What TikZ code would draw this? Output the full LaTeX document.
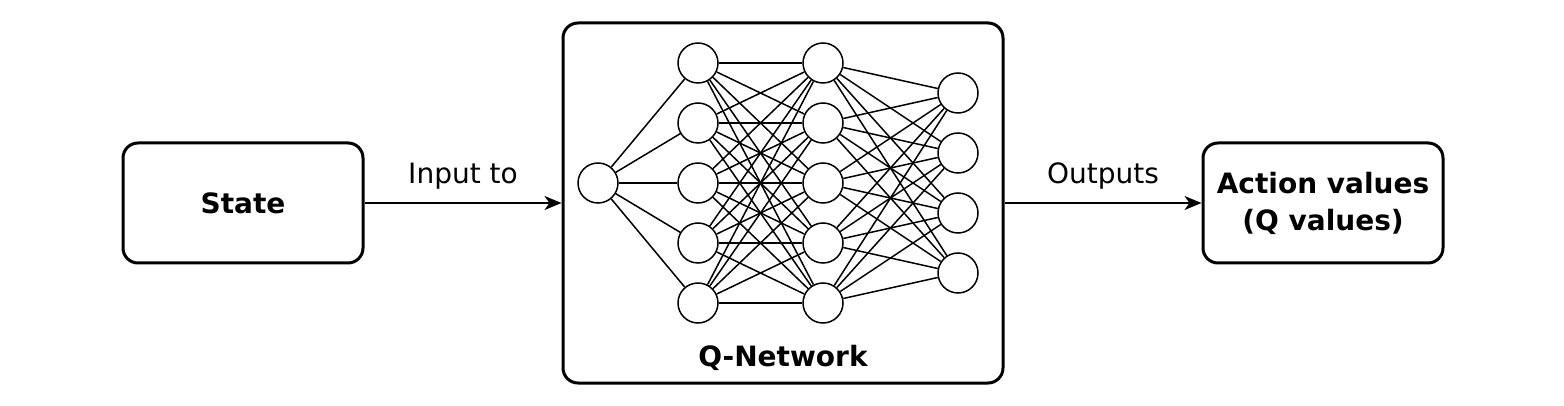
\documentclass[tikz,border=0pt]{standalone}
\usepackage{fontspec}
\setmainfont{DejaVu Sans}
\usepackage{tikz}
\usetikzlibrary{shapes,arrows,arrows.meta}
\usetikzlibrary{positioning}
\tikzstyle{box} = [rectangle, draw, line width=1.5pt, rounded corners=7.5pt,
    minimum width=120pt, minimum height=60pt, align=center,
    font=\fontsize{14}{18.5}\selectfont\bfseries]
\tikzstyle{netbox} = [rectangle, draw, line width=1.5pt, rounded corners=7.5pt,
    minimum width=220pt, minimum height=180pt]
\tikzstyle{neuron} = [circle, draw, line width=0.75pt, fill=white,
    minimum size=20pt, inner sep=0pt]
\tikzstyle{edge} = [draw, line width=0.75pt]
\tikzstyle{line} = [draw, line width=0.75pt, -{Stealth[length=8.5pt, width=7pt, inset=2.5pt]}]
\tikzstyle{label} = [above=3pt, font=\fontsize{14}{17}\selectfont]

\begin{document}
\begin{tikzpicture}[x=0.5pt, y=-0.5pt]
  \useasboundingbox (0,0) rectangle (1564,406);
  % Place nodes
  \node [box] (state) at (243,203) {State};
  \node [netbox] (qnet) at (783,203) {};
  \node [box] (action) at (1323,203) {Action values\\(Q values)};
  \node [font=\fontsize{14}{18}\selectfont\bfseries] (qlabel) at (783,358) {Q-Network};

  % Neurons
  \node [neuron] (in) at (598,183) {};
  \foreach \n/\y in {1/63,2/123,3/183,4/243,5/303} {
    \node [neuron] (h\n) at (698,\y) {};
    \node [neuron] (g\n) at (823,\y) {};
  }
  \foreach \n/\y in {1/93,2/153,3/213,4/273}
    \node [neuron] (out\n) at (958,\y) {};

  % Weights
  \foreach \a in {1,...,5} {
    \path [edge] (in) -- (h\a);
    \foreach \b in {1,...,5}
      \path [edge] (h\a) -- (g\b);
    \foreach \b in {1,...,4}
      \path [edge] (g\a) -- (out\b);
  }

  \path [line] (state) -- node [label] {Input to} (qnet);
  \path [line] (qnet) -- node [label] {Outputs} (action);

\end{tikzpicture}
\end{document}
